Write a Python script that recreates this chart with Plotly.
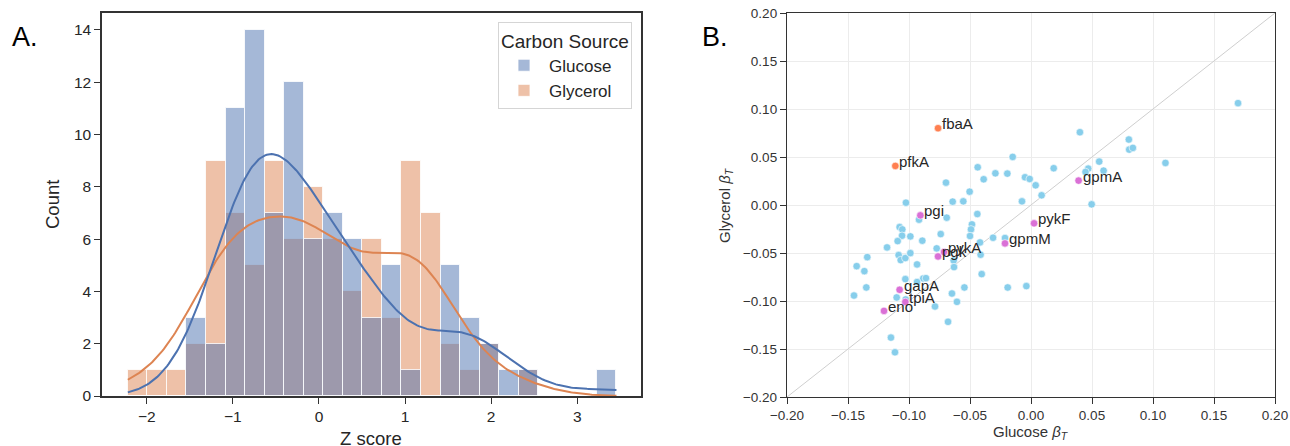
import numpy as np
import plotly.graph_objects as go

# ---------------- Panel A data: shared histogram bins ----------------
bin_start = -2.22
bin_width = 0.227
glucose_counts = [0, 0, 0, 3, 2, 11, 14, 7, 12, 6, 7, 6, 3, 5, 1, 0, 5, 3, 2, 1, 1, 0, 0, 0, 1]
glycerol_counts = [1, 1, 1, 2, 9, 7, 5, 9, 6, 8, 6, 4, 6, 3, 9, 7, 2, 1, 2, 0, 1, 0, 0, 0, 0]
z_ticks = [-2, -1, 0, 1, 2, 3]
count_ticks = [0, 2, 4, 6, 8, 10, 12, 14]

# ---------------- Panel B data ----------------
other_glucose = [-0.0437, -0.0388, -0.0292, -0.0697, -0.0503, -0.1025, -0.0642, -0.0555, -0.0440, -0.0691,
                 -0.0918, -0.0484, -0.0492, -0.1077, -0.1055, -0.1057, -0.0989, -0.0740, -0.1093, -0.0891,
                 -0.0500, -0.0418, -0.0311, -0.1180, -0.0773, -0.1342, -0.1085, -0.1068, -0.1030, -0.0989,
                 -0.0413, -0.0634, -0.0631, -0.1429, -0.1366, -0.0934, -0.0404, -0.1030, -0.0883, -0.0861,
                 -0.1350, -0.0934, -0.0546, -0.1451, -0.1101, -0.1027, -0.0648, -0.0607, -0.0787, -0.0680,
                 -0.1148, -0.1115, 0.1697, 0.0401, 0.0802, 0.0805, 0.0835, -0.0150, 0.0559, 0.1102,
                 0.0186, 0.0469, 0.0595, 0.0447, -0.0194, -0.0049, -0.0011, 0.0038, 0.0087, -0.0074,
                 0.0497, -0.0213, -0.0191, -0.0038]
other_glycerol = [0.0393, 0.0268, 0.0330, 0.0233, 0.0139, 0.0024, 0.0035, 0.0038, -0.0094, -0.0132,
                  -0.0153, -0.0202, -0.0254, -0.0230, -0.0254, -0.0320, -0.0327, -0.0303, -0.0376, -0.0372,
                  -0.0323, -0.0390, -0.0341, -0.0442, -0.0452, -0.0543, -0.0522, -0.0574, -0.0553, -0.0501,
                  -0.0518, -0.0577, -0.0647, -0.0637, -0.0689, -0.0619, -0.0720, -0.0772, -0.0765, -0.0762,
                  -0.0859, -0.0803, -0.0859, -0.0943, -0.0963, -0.0984, -0.0922, -0.1009, -0.1057, -0.1217,
                  -0.1381, -0.1534, 0.1061, 0.0758, 0.0682, 0.0577, 0.0595, 0.0501, 0.0452, 0.0438,
                  0.0383, 0.0379, 0.0358, 0.0344, 0.0327, 0.0289, 0.0271, 0.0205, 0.0101, 0.0038,
                  0.0007, -0.0344, -0.0859, -0.0845]

glyco_genes = ["pgi", "pgk", "pykA", "gapA", "tpiA", "eno", "gpmA", "pykF", "gpmM"]
glyco_glucose = [-0.0907, -0.0762, -0.0713, -0.1077, -0.1030, -0.1205, 0.0390, 0.0025, -0.0213]
glyco_glycerol = [-0.0108, -0.0536, -0.0490, -0.0883, -0.1010, -0.1103, 0.0254, -0.0191, -0.0400]

upper_genes = ["fbaA", "pfkA"]
upper_glucose = [-0.0762, -0.1112]
upper_glycerol = [0.0800, 0.0407]

beta_ticks = [-0.20, -0.15, -0.10, -0.05, 0.00, 0.05, 0.10, 0.15, 0.20]
identity_line = [-0.2, 0.2]

# ---------------- Derived: bins and KDE ----------------
n_bins = len(glucose_counts)
edges = bin_start + bin_width * np.arange(n_bins + 1)
centers = edges[:-1] + bin_width / 2
grid = np.linspace(edges[0], edges[-1], 300)


def kde_counts(counts):
    data = np.repeat(centers, counts)
    n = len(data)
    bw = n ** (-1 / 5) * data.std(ddof=1)
    dens = np.exp(-0.5 * ((grid[:, None] - data[None, :]) / bw) ** 2).sum(1) / (n * bw * np.sqrt(2 * np.pi))
    return dens * n * bin_width


BLUE = "#4c72b0"
ORANGE = "#dd8452"
FONT = "Liberation Sans, Arial, sans-serif"
DARK = "#262626"

fig = go.Figure()

# Panel A histograms (orange drawn first, blue on top)
fig.add_trace(go.Bar(x=centers, y=glycerol_counts, width=bin_width, name="Glycerol",
                     marker=dict(color="rgba(221,132,82,0.5)", line=dict(color="rgba(255,255,255,0.8)", width=1)),
                     xaxis="x", yaxis="y", legendrank=2))
fig.add_trace(go.Bar(x=centers, y=glucose_counts, width=bin_width, name="Glucose",
                     marker=dict(color="rgba(76,114,176,0.5)", line=dict(color="rgba(255,255,255,0.8)", width=1)),
                     xaxis="x", yaxis="y", legendrank=1))
fig.add_trace(go.Scatter(x=grid, y=kde_counts(glycerol_counts), mode="lines",
                         line=dict(color=ORANGE, width=2), showlegend=False, xaxis="x", yaxis="y"))
fig.add_trace(go.Scatter(x=grid, y=kde_counts(glucose_counts), mode="lines",
                         line=dict(color=BLUE, width=2), showlegend=False, xaxis="x", yaxis="y"))

# Panel B
fig.add_trace(go.Scatter(x=identity_line, y=identity_line, mode="lines",
                         line=dict(color="#cfcfcf", width=1), showlegend=False, xaxis="x2", yaxis="y2"))
fig.add_trace(go.Scatter(x=other_glucose, y=other_glycerol, mode="markers",
                         marker=dict(color="#87ceeb", size=7.5, line=dict(color="white", width=0.6)),
                         showlegend=False, xaxis="x2", yaxis="y2"))
fig.add_trace(go.Scatter(x=glyco_glucose, y=glyco_glycerol, mode="markers",
                         marker=dict(color="#da70d6", size=7.5, line=dict(color="white", width=0.6)),
                         showlegend=False, xaxis="x2", yaxis="y2"))
fig.add_trace(go.Scatter(x=upper_glucose, y=upper_glycerol, mode="markers",
                         marker=dict(color="#ff7f50", size=7.5, line=dict(color="white", width=0.6)),
                         showlegend=False, xaxis="x2", yaxis="y2"))

W, H = 1290, 446


def px(x):
    return x / W


def py(y):
    return 1 - y / H


annotations = []
for names, xs, ys in [(glyco_genes, glyco_glucose, glyco_glycerol), (upper_genes, upper_glucose, upper_glycerol)]:
    for g, xv, yv in zip(names, xs, ys):
        annotations.append(dict(x=xv, y=yv, xref="x2", yref="y2", text=g, showarrow=False,
                                xanchor="left", yanchor="bottom", xshift=2, yshift=-6,
                                font=dict(family=FONT, size=15, color=DARK)))

annotations += [
    dict(x=px(10), y=py(20), xref="paper", yref="paper", text="A.", showarrow=False,
         xanchor="left", yanchor="top", font=dict(family=FONT, size=27, color="black")),
    dict(x=px(700), y=py(20), xref="paper", yref="paper", text="B.", showarrow=False,
         xanchor="left", yanchor="top", font=dict(family=FONT, size=27, color="black")),
    dict(x=px(52), y=py(205), xref="paper", yref="paper", text="Count", showarrow=False, textangle=-90,
         xanchor="center", yanchor="middle", font=dict(family=FONT, size=18.5, color=DARK)),
    dict(x=px(371), y=py(438), xref="paper", yref="paper", text="Z score", showarrow=False,
         xanchor="center", yanchor="middle", font=dict(family=FONT, size=18.5, color=DARK)),
    dict(x=px(1031), y=py(432), xref="paper", yref="paper", text="Glucose <i>β</i><sub><i>T</i></sub>",
         showarrow=False, xanchor="center", yanchor="middle", font=dict(family=FONT, size=15, color="#333333")),
    dict(x=px(725), y=py(205), xref="paper", yref="paper", text="Glycerol <i>β</i><sub><i>T</i></sub>",
         showarrow=False, textangle=-90, xanchor="center", yanchor="middle",
         font=dict(family=FONT, size=15, color="#333333")),
]

axA = dict(showline=True, mirror=True, linecolor="#333333", linewidth=1.5, ticks="outside", ticklen=6,
           tickwidth=1.3, tickcolor="#333333", showgrid=False, zeroline=False,
           tickfont=dict(family=FONT, size=15.5, color=DARK), automargin=False)
axB = dict(showline=True, mirror=True, linecolor="#333333", linewidth=1.3, ticks="outside", ticklen=6,
           tickwidth=1, tickcolor="#333333", showgrid=True, gridcolor="#ececec", gridwidth=1, zeroline=False,
           tickfont=dict(family=FONT, size=13.5, color="#333333"), automargin=False,
           tickvals=beta_ticks, tickformat=".2f", range=[-0.2, 0.2])

fig.update_layout(
    width=W, height=H, margin=dict(l=0, r=0, t=0, b=0),
    paper_bgcolor="white", plot_bgcolor="white",
    barmode="overlay", bargap=0,
    font=dict(family=FONT, color=DARK),
    xaxis=dict(axA, domain=[px(102), px(641)], range=[-2.52, 3.74], tickvals=z_ticks, anchor="y"),
    yaxis=dict(axA, domain=[py(396), py(13)], range=[0, 14.65], tickvals=count_ticks, anchor="x"),
    xaxis2=dict(axB, domain=[px(787), px(1275)], anchor="y2"),
    yaxis2=dict(axB, domain=[py(397), py(13)], anchor="x2"),
    legend=dict(x=px(632), y=py(22), xanchor="right", yanchor="top", bgcolor="white",
                bordercolor="#d5d5d5", borderwidth=1,
                title=dict(text="Carbon Source", font=dict(family=FONT, size=19, color=DARK)),
                font=dict(family=FONT, size=17, color=DARK), itemwidth=40),
    annotations=annotations,
    showlegend=True,
)

fig.write_html("out.html")
